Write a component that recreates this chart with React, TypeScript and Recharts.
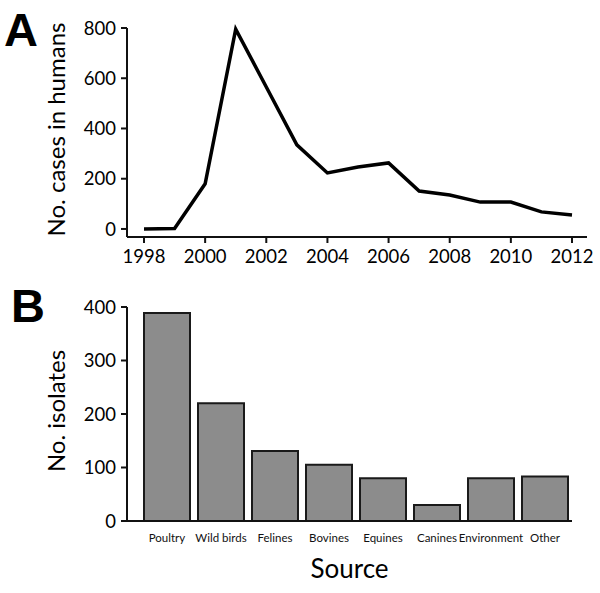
import React from "react";
import { LineChart, Line, BarChart, Bar, XAxis, YAxis } from "recharts";

const years = [1998, 1999, 2000, 2001, 2002, 2003, 2004, 2005, 2006, 2007, 2008, 2009, 2010, 2011, 2012];
const humanCases = [0, 2, 180, 795, 565, 335, 223, 247, 263, 151, 135, 107, 107, 68, 56];
const yearTicks = [1998, 2000, 2002, 2004, 2006, 2008, 2010, 2012];
const caseTicks = [0, 200, 400, 600, 800];

const sources = ["Poultry", "Wild birds", "Felines", "Bovines", "Equines", "Canines", "Environment", "Other"];
const isolates = [389, 220, 131, 105, 80, 30, 80, 83];
const isolateTicks = [0, 100, 200, 300, 400];

const FONT = "Lato, 'Open Sans', sans-serif";
const tickStyle = { fontSize: 18.5, fill: "#000", fontFamily: FONT };

const lineData = years.map((y, i) => ({ year: y, cases: humanCases[i] }));
const barData = sources.map((s, i) => ({ source: s, count: isolates[i] }));

function VerticalLabel({ viewBox, value, cx }: any) {
  const y = viewBox.y + viewBox.height / 2 - 3;
  return (
    <text
      x={cx}
      y={y}
      transform={`rotate(-90, ${cx}, ${y})`}
      textAnchor="middle"
      dominantBaseline="central"
      fontSize={24}
      fontFamily={FONT}
      fill="#000"
    >
      {value}
    </text>
  );
}

function SourceLabel({ viewBox }: any) {
  const x = viewBox.x + viewBox.width / 2;
  return (
    <text x={x} y={viewBox.y + 57} textAnchor="middle" fontSize={26} fontFamily={FONT} fill="#000">
      Source
    </text>
  );
}

const letterStyle: React.CSSProperties = {
  position: "absolute",
  fontSize: 47,
  fontWeight: 700,
  fontFamily: "'Liberation Sans', Arial, sans-serif",
  lineHeight: "60px",
};

export default function App() {
  return (
    <div style={{ position: "absolute", left: 0, top: 0, width: 600, height: 593, background: "#fff" }}>
      <div style={{ ...letterStyle, left: 4, top: 0 }}>A</div>
      <div style={{ ...letterStyle, left: 11, top: 276 }}>B</div>
      <div style={{ position: "absolute", left: 0, top: 0 }}>
        <LineChart width={600} height={270} data={lineData} margin={{ top: 28, right: 13, bottom: 0, left: 0 }}>
          <XAxis
            dataKey="year"
            type="number"
            domain={[1998, 2012]}
            ticks={yearTicks}
            padding={{ left: 17, right: 15 }}
            height={33}
            tick={tickStyle}
            tickSize={6}
            tickMargin={7}
            stroke="#111"
            strokeWidth={2}
          />
          <YAxis
            domain={[-32, 800]}
            ticks={caseTicks}
            width={127}
            tick={tickStyle}
            tickSize={6}
            tickMargin={5}
            stroke="#111"
            strokeWidth={2}
            label={<VerticalLabel value="No. cases in humans" cx={55} />}
          />
          <Line
            dataKey="cases"
            type="linear"
            stroke="#000"
            strokeWidth={3.5}
            dot={false}
            strokeLinejoin="miter"
            isAnimationActive={false}
          />
        </LineChart>
      </div>
      <div style={{ position: "absolute", left: 0, top: 270 }}>
        <BarChart width={600} height={323} data={barData} margin={{ top: 37, right: 28, bottom: 0, left: 0 }} barCategoryGap={4}>
          <XAxis
            dataKey="source"
            padding={{ left: 13, right: 0 }}
            height={72}
            interval={0}
            tick={{ fontSize: 11.5, fill: "#111", fontFamily: FONT }}
            tickLine={false}
            tickSize={6}
            tickMargin={7}
            stroke="#111"
            strokeWidth={2}
            label={<SourceLabel />}
          />
          <YAxis
            domain={[0, 400]}
            ticks={isolateTicks}
            width={127}
            tick={tickStyle}
            tickSize={6}
            tickMargin={5}
            stroke="#111"
            strokeWidth={2}
            label={<VerticalLabel value="No. isolates" cx={55} />}
          />
          <Bar dataKey="count" fill="#8c8c8c" stroke="#1a1a1a" strokeWidth={2} isAnimationActive={false} />
        </BarChart>
      </div>
    </div>
  );
}
